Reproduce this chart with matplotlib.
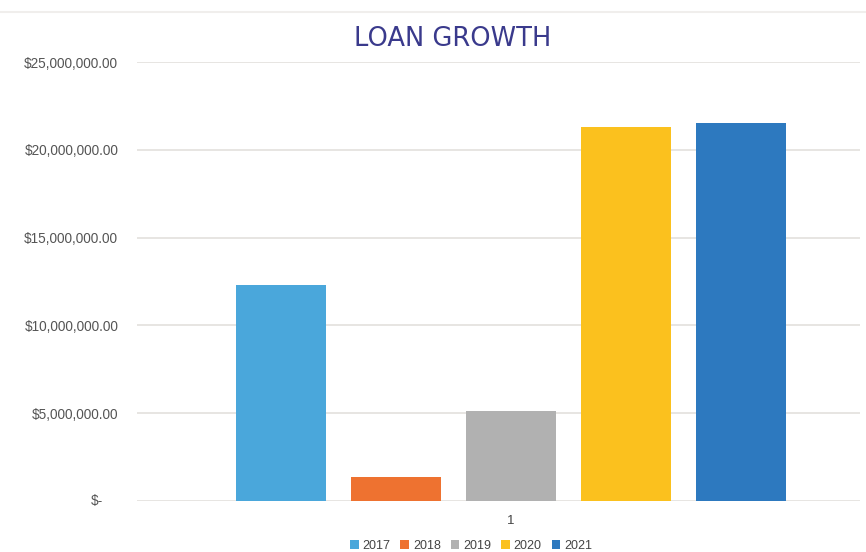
import matplotlib
matplotlib.use('Agg')
import matplotlib.pyplot as plt
from matplotlib.lines import Line2D
from matplotlib.ticker import FuncFormatter

YEARS = ['2017', '2018', '2019', '2020', '2021']
LOANS = [12300000, 1350000, 5150000, 21300000, 21500000]
COLORS = ['#4AA7DB', '#EE7230', '#B1B1B1', '#FBC11E', '#2D79BF']
YTICKS = [0, 5000000, 10000000, 15000000, 20000000, 25000000]


def money(v, pos):
    '''Excel accounting style labels (zero is drawn separately).'''
    if v == 0:
        return ''
    return '${:,.2f}'.format(v)


def main():
    fig = plt.figure(figsize=(8.66, 5.52), dpi=100)
    ax = fig.add_axes([137 / 866, 1 - 501 / 552, (860 - 137) / 866, (501 - 62) / 552])

    xs = range(len(YEARS))
    bars = ax.bar(xs, LOANS, width=0.79, color=COLORS, zorder=3)

    ax.set_ylim(0, 25000000)
    ax.set_xlim(-1.252, 5.035)
    ax.set_yticks(YTICKS)
    ax.yaxis.set_major_formatter(FuncFormatter(money))
    ax.grid(axis='y', color='#E3E0DD', linewidth=1.2, zorder=0)
    for s in ax.spines.values():
        s.set_visible(False)
    ax.tick_params(axis='y', length=0, pad=13.5, labelsize=9.8, labelcolor='#555555')
    ax.set_xticks([2])
    ax.set_xticklabels(['1'])
    ax.tick_params(axis='x', length=0, pad=10, labelsize=9.5, labelcolor='#444444')
    for lab in ax.get_yticklabels() + ax.get_xticklabels():
        lab.set_family('Liberation Sans')
    # accounting format puts "$-" further left than the other labels
    ax.text(-0.047, 0, '$-', transform=ax.get_yaxis_transform(), ha='right', va='center',
            fontsize=9.8, color='#555555', family='Liberation Sans')

    fig.text(453 / 866, 1 - 39 / 552, 'LOAN GROWTH', ha='center', va='center',
             fontsize=18.5, color='#3A3A8C', family='DejaVu Sans')

    ax.legend(bars, YEARS, loc='center', bbox_to_anchor=(471 / 866, 1 - 546 / 552),
              bbox_transform=fig.transFigure, ncol=5, frameon=False,
              handlelength=0.7, handleheight=0.7, handletextpad=0.3, columnspacing=0.8,
              prop={'family': 'Liberation Sans', 'size': 9}, labelcolor='#444444')

    # faint border line at the top of the chart area
    fig.add_artist(Line2D([0, 1], [1 - 12 / 552, 1 - 12 / 552], color='#F0EEEC',
                          linewidth=1.5, transform=fig.transFigure))

    fig.savefig('out.png', dpi=100, facecolor='white')


if __name__ == "__main__":
    main()
